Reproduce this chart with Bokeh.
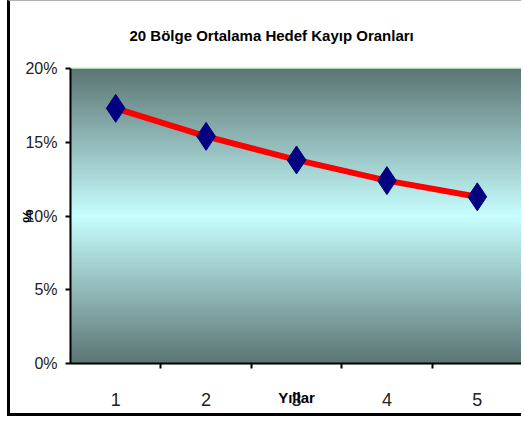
import numpy as np
from bokeh.plotting import figure
from bokeh.models import Range1d, FixedTicker, NumeralTickFormatter, ColumnDataSource
from bokeh.embed import file_html
from bokeh.resources import INLINE

# ---- data ----
years = [1, 2, 3, 4, 5]
year_labels = ["1", "2", "3", "4", "5"]
loss_rates = [0.173, 0.154, 0.138, 0.124, 0.113]
y_ticks = [0.0, 0.05, 0.10, 0.15, 0.20]
title_text = "20 Bölge Ortalama Hedef Kayıp Oranları"
x_title = "Yıllar"
y_title = "%"

FONT = "Liberation Sans"

p = figure(width=514, height=416, output_backend="svg", toolbar_location=None,
           x_range=Range1d(0.5, 5.5), y_range=Range1d(0.0, 0.20),
           min_border_left=60, min_border_right=2, min_border_top=67, min_border_bottom=54,
           title=title_text)
p.styles = {"margin-left": "7px",
            "border-left": "3px solid black",
            "border-bottom": "3px solid black",
            "border-top": "1px solid #b0b0b0"}

# gradient background (dark edges, light cyan centre)
N = 200
t = np.abs(np.linspace(-1, 1, N))
edge = np.array([92, 118, 116])
centre = np.array([200, 255, 255])
rgb = (centre[None, :] * (1 - t[:, None]) + edge[None, :] * t[:, None]).astype(np.uint8)
img = np.empty((N, 1), dtype=np.uint32)
view = img.view(dtype=np.uint8).reshape((N, 1, 4))
view[:, 0, 0] = rgb[:, 0]
view[:, 0, 1] = rgb[:, 1]
view[:, 0, 2] = rgb[:, 2]
view[:, 0, 3] = 255
p.image_rgba(image=[img], x=0.5, y=0.0, dw=5, dh=0.20)

src = ColumnDataSource(dict(x=years, y=loss_rates))
p.line("x", "y", source=src, line_color="#ff0000", line_width=6)
p.scatter("x", "y", source=src, marker="diamond", size=28,
          fill_color="#000080", line_color="#000080")

p.grid.visible = False
p.outline_line_color = "#c4f4c4"
p.outline_line_width = 2
p.background_fill_color = "white"
p.border_fill_color = "white"

# title
p.title.text_font = FONT
p.title.text_font_style = "bold"
p.title.text_font_size = "15px"
p.title.text_color = "black"
p.title.align = "left"
p.title.vertical_align = "top"
p.title.offset = 59
p.title.standoff = 46

# x axis
xa = p.xaxis[0]
xa.ticker = FixedTicker(ticks=years, minor_ticks=[1.5, 2.5, 3.5, 4.5, 5.5])
xa.major_label_overrides = {y: l for y, l in zip(years, year_labels)}
xa.major_tick_line_color = None
xa.minor_tick_line_color = "black"
xa.minor_tick_line_width = 2
xa.minor_tick_out = 5
xa.minor_tick_in = 0
xa.axis_line_color = "black"
xa.axis_line_width = 2
xa.major_label_text_font = FONT
xa.major_label_text_font_size = "18px"
xa.major_label_text_color = "#222222"
xa.major_label_standoff = 23
xa.axis_label = x_title
xa.axis_label_text_font = FONT
xa.axis_label_text_font_style = "bold"
xa.axis_label_text_font_size = "15px"
xa.axis_label_text_color = "black"
xa.axis_label_standoff = -20

# y axis
ya = p.yaxis[0]
ya.ticker = FixedTicker(ticks=y_ticks)
ya.formatter = NumeralTickFormatter(format="0%")
ya.major_tick_line_color = "black"
ya.major_tick_line_width = 2
ya.major_tick_out = 5
ya.major_tick_in = 0
ya.minor_tick_line_color = None
ya.axis_line_color = "black"
ya.axis_line_width = 2
ya.major_label_text_font = FONT
ya.major_label_text_font_size = "16px"
ya.major_label_text_color = "#222222"
ya.major_label_standoff = 8
ya.axis_label = y_title
ya.axis_label_text_font = FONT
ya.axis_label_text_font_style = "bold"
ya.axis_label_text_font_size = "15px"
ya.axis_label_text_color = "black"
ya.axis_label_standoff = -14

open("out.html", "w").write(file_html(p, INLINE))
